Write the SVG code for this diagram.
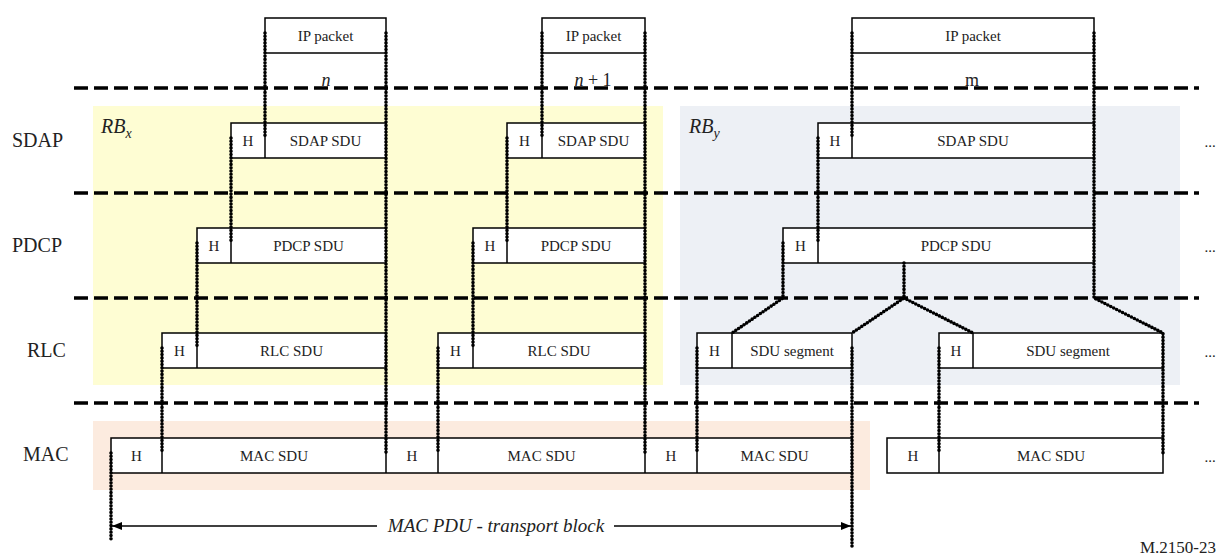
<svg xmlns="http://www.w3.org/2000/svg" width="1225" height="559" viewBox="0 0 1225 559">
<defs>
<marker id="ah" viewBox="0 0 10 8" refX="10" refY="4" markerWidth="10" markerHeight="8" markerUnits="userSpaceOnUse" orient="auto-start-reverse">
<path d="M0,0 L10,4 L0,8 z" fill="#000"/>
</marker>
</defs>
<style>
text{font-family:"Liberation Serif","Times New Roman",serif;fill:#222}
.t{font-size:15px;text-anchor:middle}
.lbl{font-size:18px;text-anchor:middle}
.big{font-size:19px;text-anchor:middle}
.lay{font-size:20px}
.it{font-style:italic}
.box{fill:#fff;stroke:#000;stroke-width:1.5}
.div{stroke:#000;stroke-width:1.5;fill:none}
.dash{stroke:#000;stroke-width:3.5;stroke-dasharray:14 6;fill:none}
.dot{stroke:#000;stroke-width:3.6;stroke-dasharray:0 3.3;stroke-linecap:round;stroke-linejoin:round;fill:none}
.arr{stroke:#000;stroke-width:1.4;fill:none}
</style>
<rect width="1225" height="559" fill="#fff"/>
<g id="regions">
<rect x="93" y="106" width="570" height="279" fill="#FEFDD3"/>
<rect x="680" y="106" width="500" height="279" fill="#EDF0F5"/>
<rect x="93" y="421" width="777" height="69" fill="#FCEBDF"/>
</g>
<g id="layers">
<line class="dash" x1="74" y1="88" x2="1199" y2="88"/>
<line class="dash" x1="74" y1="193" x2="1199" y2="193"/>
<line class="dash" x1="74" y1="298" x2="1199" y2="298"/>
<line class="dash" x1="74" y1="403" x2="1199" y2="403"/>
<text class="lay" x="12" y="147">SDAP</text>
<text class="lay" x="12" y="252">PDCP</text>
<text class="lay" x="27" y="357">RLC</text>
<text class="lay" x="23" y="461">MAC</text>
<text class="lay it" x="101" y="133">RB<tspan style="font-size:14px" dy="5">x</tspan></text>
<text class="lay it" x="689" y="133">RB<tspan style="font-size:14px" dy="5">y</tspan></text>
<text class="t" x="1210" y="147">...</text>
<text class="t" x="1210" y="252">...</text>
<text class="t" x="1210" y="357">...</text>
<text class="t" x="1210" y="462">...</text>
<text class="lbl it" x="326" y="86">n</text>
<text class="lbl" x="593" y="86"><tspan font-style="italic">n</tspan> + 1</text>
<text class="lbl" x="972" y="86">m</text>
<text x="1140" y="553" style="font-size:17px">M.2150-23</text>
</g>
<g id="ip-n"><rect class="box" x="265" y="18" width="121" height="35"/><text class="t" x="325.5" y="41">IP packet</text></g>
<g id="ip-n1"><rect class="box" x="542" y="18" width="103" height="35"/><text class="t" x="593.5" y="41">IP packet</text></g>
<g id="ip-m"><rect class="box" x="852" y="18" width="242" height="35"/><text class="t" x="973" y="41">IP packet</text></g>
<g id="sdap-n"><rect class="box" x="231" y="123" width="155" height="35"/><line class="div" x1="265" y1="123" x2="265" y2="158"/><text class="t" x="248" y="146">H</text><text class="t" x="325.5" y="146">SDAP SDU</text></g>
<g id="sdap-n1"><rect class="box" x="507" y="123" width="138" height="35"/><line class="div" x1="542" y1="123" x2="542" y2="158"/><text class="t" x="524.5" y="146">H</text><text class="t" x="593.5" y="146">SDAP SDU</text></g>
<g id="sdap-m"><rect class="box" x="818" y="123" width="276" height="35"/><line class="div" x1="852" y1="123" x2="852" y2="158"/><text class="t" x="835" y="146">H</text><text class="t" x="973" y="146">SDAP SDU</text></g>
<g id="pdcp-n"><rect class="box" x="197" y="228" width="189" height="35"/><line class="div" x1="231" y1="228" x2="231" y2="263"/><text class="t" x="214" y="251">H</text><text class="t" x="308.5" y="251">PDCP SDU</text></g>
<g id="pdcp-n1"><rect class="box" x="473" y="228" width="172" height="35"/><line class="div" x1="507" y1="228" x2="507" y2="263"/><text class="t" x="490" y="251">H</text><text class="t" x="576" y="251">PDCP SDU</text></g>
<g id="pdcp-m"><rect class="box" x="783" y="228" width="311" height="35"/><line class="div" x1="818" y1="228" x2="818" y2="263"/><text class="t" x="800.5" y="251">H</text><text class="t" x="956" y="251">PDCP SDU</text></g>
<g id="rlc-n"><rect class="box" x="162" y="333" width="224" height="35"/><line class="div" x1="197" y1="333" x2="197" y2="368"/><text class="t" x="179.5" y="356">H</text><text class="t" x="291.5" y="356">RLC SDU</text></g>
<g id="rlc-n1"><rect class="box" x="438" y="333" width="207" height="35"/><line class="div" x1="473" y1="333" x2="473" y2="368"/><text class="t" x="455.5" y="356">H</text><text class="t" x="559" y="356">RLC SDU</text></g>
<g id="rlc-seg1"><rect class="box" x="697" y="333" width="155" height="35"/><line class="div" x1="732" y1="333" x2="732" y2="368"/><text class="t" x="714.5" y="356">H</text><text class="t" x="792" y="356">SDU segment</text></g>
<g id="rlc-seg2"><rect class="box" x="939" y="333" width="224" height="35"/><line class="div" x1="973" y1="333" x2="973" y2="368"/><text class="t" x="956" y="356">H</text><text class="t" x="1068" y="356">SDU segment</text></g>
<g id="mac-pdu"><rect class="box" x="111" y="438" width="741" height="35"/>
<line class="div" x1="162" y1="438" x2="162" y2="473"/><line class="div" x1="386" y1="438" x2="386" y2="473"/><line class="div" x1="438" y1="438" x2="438" y2="473"/><line class="div" x1="645" y1="438" x2="645" y2="473"/><line class="div" x1="697" y1="438" x2="697" y2="473"/>
<text class="t" x="136.5" y="461">H</text><text class="t" x="274" y="461">MAC SDU</text><text class="t" x="412" y="461">H</text><text class="t" x="541.5" y="461">MAC SDU</text><text class="t" x="671" y="461">H</text><text class="t" x="774.5" y="461">MAC SDU</text></g>
<g id="mac-2"><rect class="box" x="887" y="438" width="276" height="35"/><line class="div" x1="939" y1="438" x2="939" y2="473"/><text class="t" x="913" y="461">H</text><text class="t" x="1051" y="461">MAC SDU</text></g>
<g id="connectors">
<path class="dot" d="M265,33 V138"/>
<path class="dot" d="M386,33 V453"/>
<path class="dot" d="M231,138 V243"/>
<path class="dot" d="M197,243 V348"/>
<path class="dot" d="M162,348 V453"/>
<path class="dot" d="M111,453 V542"/>
<path class="dot" d="M542,33 V138"/>
<path class="dot" d="M645,33 V453"/>
<path class="dot" d="M507,138 V243"/>
<path class="dot" d="M473,243 V348"/>
<path class="dot" d="M438,348 V453"/>
<path class="dot" d="M852,33 V138"/>
<path class="dot" d="M1094,33 V298 L1163,333 V453"/>
<path class="dot" d="M818,138 V243"/>
<path class="dot" d="M783,243 V298 L732,333"/>
<path class="dot" d="M904,263 V298 L852,333"/>
<path class="dot" d="M904,298 L973,333"/>
<path class="dot" d="M697,348 V453"/>
<path class="dot" d="M852,348 V547"/>
<path class="dot" d="M939,348 V453"/>
<line class="arr" x1="112" y1="526" x2="377" y2="526" marker-start="url(#ah)"/>
<line class="arr" x1="614" y1="526" x2="851" y2="526" marker-end="url(#ah)"/>
<text class="big it" x="496" y="532">MAC PDU - transport block</text>
</g>
</svg>
